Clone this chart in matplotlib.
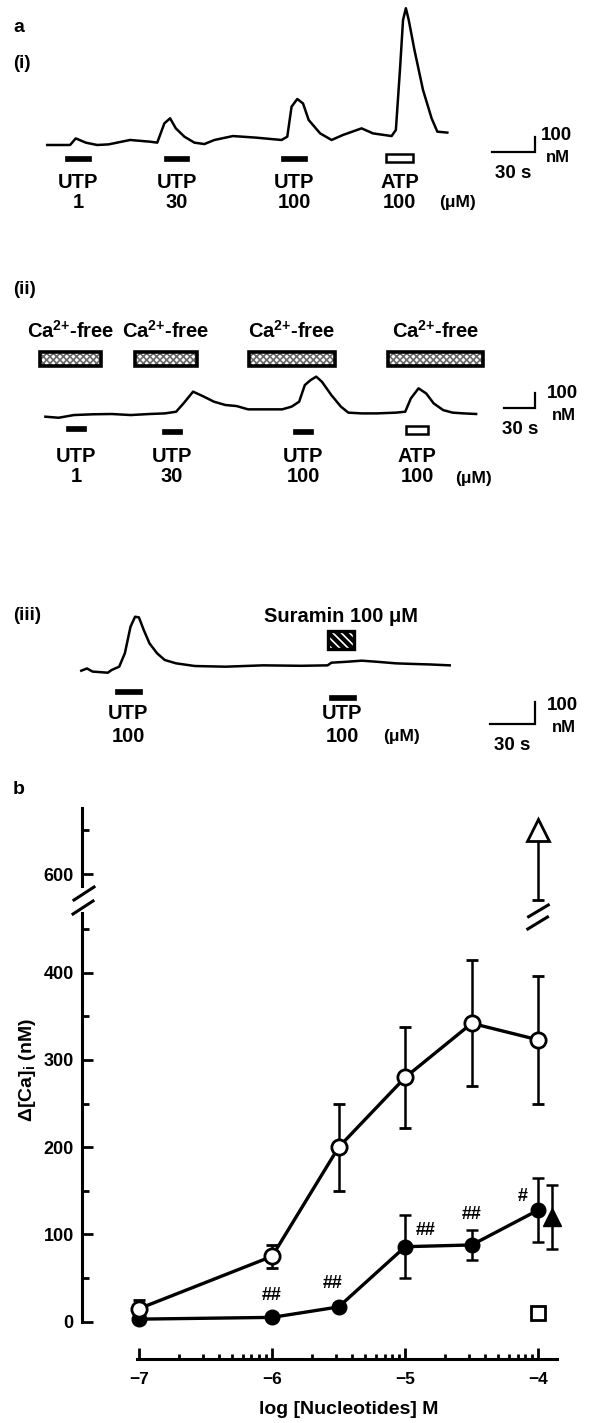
"""Fura-2 traces (a) and concentration-response curves (b) for UTP / ATP."""

import matplotlib.pyplot as plt
import numpy as np
from matplotlib.lines import Line2D
from matplotlib.patches import Rectangle

W, H = 591, 1423

# ---- a(i): normal medium; time (s) vs delta [Ca]i (nM)
T1 = [0, 16, 20, 27, 35, 43, 58, 72, 77, 82, 86, 90, 96, 103, 110, 117, 130, 146, 164, 168,
      171, 175, 179, 183, 191, 199, 207, 220, 228, 241, 244, 247, 249, 251, 253, 257, 263, 269, 273, 280]
V1 = [0, 0, 42, 15, 0, 4, 32, 21, 15, 138, 170, 106, 53, 15, 6, 32, 57, 47, 32, 53,
      244, 293, 265, 159, 74, 32, 64, 106, 74, 57, 96, 499, 796, 871, 796, 605, 350, 170, 85, 79]
STIM1_ON = [12.7, 81.5, 163.9, 237.4]
STIM1_OFF = [30.5, 99.5, 181.7, 256.0]
STIM1_DRUG = ["UTP", "UTP", "UTP", "ATP"]
STIM1_CONC = ["1", "30", "100", "100"]

# ---- a(ii): Ca2+-free medium
T2 = [0, 12.6, 27.1, 45.1, 63.2, 81.3, 99.2, 113.8, 124.6, 131.7, 140.8, 149.8, 160.7, 171.5,
      182.3, 193.2, 207.6, 225.7, 234.7, 241.9, 247.3, 252.8, 258.2, 263.6, 272.6, 281.7, 288.8,
      301.5, 315.9, 334, 343, 348.4, 355.7, 363, 370.1, 379.2, 388.2, 399, 410.6]
V2 = [0, -7, 11, 16, 18, 11, 18, 22, 33, 89, 167, 138, 100, 78, 71, 49, 49, 49, 67, 100,
      211, 244, 267, 233, 144, 67, 27, 22, 22, 27, 33, 122, 189, 155, 89, 44, 27, 22, 18]
STIM2_ON = [19.8, 110.8, 236.5, 344.0]
STIM2_OFF = [38.5, 130.0, 255.3, 364.7]
STIM2_DRUG = ["UTP", "UTP", "UTP", "ATP"]
STIM2_CONC = ["1", "30", "100", "100"]
CAFREE_ON = [-5.4, 85.6, 193.9, 326.8]
CAFREE_OFF = [53.1, 144.6, 276.3, 416.7]

# ---- a(iii): suramin
T3 = [0, 3.7, 7.4, 17.4, 19.8, 24.8, 28.5, 32.2, 35.2, 37.7, 40.9, 44.6, 49.6, 54.6, 62, 74.4,
      94.3, 119, 143.9, 161.2, 163.7, 173.6, 183.5, 193.5, 205.9, 218.3, 228.2, 241.1]
V3 = [0, 10, -4, -9, 3, 18, 78, 197, 242, 239, 182, 123, 78, 48, 33, 21,
      18, 24, 22, 24, 36, 40, 45, 40, 33, 30, 28, 24]
STIM3_ON = [21.9, 161.8]
STIM3_OFF = [39.7, 179.8]
STIM3_DRUG = ["UTP", "UTP"]
STIM3_CONC = ["100", "100"]
SURAMIN_ON, SURAMIN_OFF = 161.3, 178.6

# ---- b: log concentration (M) vs delta [Ca]i (nM)
LOG_C = [-7, -6, -5.5, -5, -4.5, -4]
UTP_CTRL = [15, 75, 200, 280, 342, 323]
UTP_CTRL_SEM = [10, 13, 50, 58, 72, 73]
UTP_FREE = [3, 5, 17, 86, 88, 128]
UTP_FREE_SEM = [3, 3, 4, 36, 17, 37]
SIG_MARK = ["", "##", "##", "##", "##", "#"]
ATP_CTRL_X, ATP_CTRL, ATP_CTRL_SEM = -4.0, 650, 80
ATP_FREE_X, ATP_FREE, ATP_FREE_SEM = -3.9, 120, 37
SURAMIN_X, SURAMIN_Y = -4.0, 10

plt.rcParams["font.family"] = ["Liberation Sans", "DejaVu Sans"]
plt.rcParams["font.weight"] = "bold"
plt.rcParams["mathtext.default"] = "regular"
plt.rcParams["hatch.linewidth"] = 1.2


def px_rect(left, top, right, bottom):
    return [left / W, 1 - bottom / H, (right - left) / W, (bottom - top) / H]


def fig_line(fig, p1, p2, lw=2.2):
    fig.add_artist(Line2D([p1[0] / W, p2[0] / W], [1 - p1[1] / H, 1 - p2[1] / H],
                          transform=fig.transFigure, color="k", lw=lw))


def trace_panel(fig, top, bottom, x0, y0, sx, sy):
    """Axes over a pixel band; t=0/v=0 sits at pixel (x0, y0), sx px/s, sy px/nM."""
    ax = fig.add_axes(px_rect(0, top, W, bottom))
    ax.set_xlim(-x0 / sx, (W - x0) / sx)
    ax.set_ylim((y0 - bottom) / sy, (y0 - top) / sy)
    ax.axis("off")
    tx = lambda px: (px - x0) / sx
    lv = lambda py: (y0 - py) / sy
    return ax, tx, lv, sy


def draw_stim(ax, lv, sy, on, off, drugs, concs, centres, y_drug, y_conc):
    for s, e, d, c, yc in zip(on, off, drugs, concs, centres):
        if d == "ATP":
            ax.add_patch(Rectangle((s, lv(yc + 4)), e - s, 8 / sy, fc="white", ec="k", lw=1.8))
        else:
            ax.add_patch(Rectangle((s, lv(yc + 2.5)), e - s, 5 / sy, fc="k", ec="k", lw=0.5))
        ax.text((s + e) / 2, lv(y_drug), d, ha="center", va="center", fontsize=14.5)
        ax.text((s + e) / 2, lv(y_conc), c, ha="center", va="center", fontsize=14.5)


def scale_bar(ax, tx, lv, left_px, y_px, lab_px):
    t0, v0 = tx(left_px), lv(y_px)
    ax.plot([t0, t0 + 30, t0 + 30], [v0, v0, v0 + 100], color="k", lw=1.6,
            solid_joinstyle="miter", clip_on=False)
    ax.text(tx(lab_px[0]), lv(lab_px[1]), "100", ha="left", va="center", fontsize=13.5)
    ax.text(tx(lab_px[0] + 5), lv(lab_px[1] + 22), "nM", ha="left", va="center", fontsize=12)
    ax.text(t0 + 15, lv(y_px + 21), "30 s", ha="center", va="center", fontsize=13.5)


fig = plt.figure(figsize=(W / 100, H / 100), dpi=100)

# a(i)
ax, tx, lv, sy = trace_panel(fig, 0, 250, 47.2, 145, 1.429, 0.157)
ax.plot(T1, V1, color="k", lw=1.8)
draw_stim(ax, lv, sy, STIM1_ON, STIM1_OFF, STIM1_DRUG, STIM1_CONC, [158] * 4, 183, 202)
ax.text(tx(458), lv(203), "(μM)", ha="center", va="center", fontsize=12.5)
scale_bar(ax, tx, lv, 491.7, 152.3, (541, 135))
fig.text(13 / W, 1 - 27 / H, "a", ha="left", va="center", fontsize=14)
fig.text(13 / W, 1 - 63 / H, "(i)", ha="left", va="center", fontsize=13.5)

# a(ii)
ax, tx, lv, sy = trace_panel(fig, 250, 520, 45.4, 416.7, 1.049, 0.15)
ax.plot(T2, V2, color="k", lw=1.8)
draw_stim(ax, lv, sy, STIM2_ON, STIM2_OFF, STIM2_DRUG, STIM2_CONC,
          [428.3, 431.7, 431.0, 430.3], 456.7, 476.7)
for s, e in zip(CAFREE_ON, CAFREE_OFF):
    ax.add_patch(Rectangle((s, lv(366)), e - s, 14.3 / sy, fc="white", ec="none"))
    ax.add_patch(Rectangle((s, lv(366)), e - s, 14.3 / sy, fc="none", ec="#6a6a6a", lw=0,
                           hatch="xxxxx"))
    ax.add_patch(Rectangle((s, lv(366)), e - s, 14.3 / sy, fc="none", ec="k", lw=2.6))
    ax.text((s + e) / 2, lv(331), "Ca$^{2{+}}$-free", ha="center", va="center", fontsize=14.5)
ax.text(tx(473), lv(478), "(μM)", ha="center", va="center", fontsize=12.5)
scale_bar(ax, tx, lv, 504, 408.3, (547, 393))
fig.text(13 / W, 1 - 289 / H, "(ii)", ha="left", va="center", fontsize=13.5)

# a(iii)
ax, tx, lv, sy = trace_panel(fig, 520, 770, 81.3, 670.7, 1.528, 0.223)
ax.plot(T3, V3, color="k", lw=1.8)
draw_stim(ax, lv, sy, STIM3_ON, STIM3_OFF, STIM3_DRUG, STIM3_CONC, [691.7, 697.5], 713.3, 736)
ax.add_patch(Rectangle((SURAMIN_ON, lv(649.3)), SURAMIN_OFF - SURAMIN_ON, 18.3 / sy,
                       fc="k", ec="none"))
ax.add_patch(Rectangle((SURAMIN_ON, lv(649.3)), SURAMIN_OFF - SURAMIN_ON, 18.3 / sy,
                       fc="none", ec="white", lw=0, hatch="\\\\\\\\"))
ax.add_patch(Rectangle((SURAMIN_ON, lv(649.3)), SURAMIN_OFF - SURAMIN_ON, 18.3 / sy,
                       fc="none", ec="k", lw=2.4))
ax.text((SURAMIN_ON + SURAMIN_OFF) / 2, lv(616.7), "Suramin 100 μM", ha="center", va="center",
        fontsize=14.5)
ax.text(tx(401.6), lv(737), "(μM)", ha="center", va="center", fontsize=12.5)
scale_bar(ax, tx, lv, 489.5, 724, (547, 705))
fig.text(13 / W, 1 - 615 / H, "(iii)", ha="left", va="center", fontsize=13.5)

# b: broken y axis, lower and upper parts
XLIM = (-7 + (82 - 139) / 133.1, -7 + (570 - 139) / 133.1)
ax_lo = fig.add_axes(px_rect(82, 913, 570, 1339.2))
ax_hi = fig.add_axes(px_rect(82, 807.7, 570, 904.6))
ax_lo.set_ylim(-20, 468.4)
ax_hi.set_ylim(565, 676)
for a in (ax_lo, ax_hi):
    a.set_xlim(*XLIM)
    a.patch.set_visible(False)
    a.spines["top"].set_visible(False)
    a.spines["right"].set_visible(False)
    a.spines["left"].set_linewidth(2.2)
    a.tick_params(axis="y", which="both", direction="in", width=2.0, labelsize=13, pad=6)
    a.tick_params(axis="y", which="major", length=8)
    a.tick_params(axis="y", which="minor", length=5)
ax_lo.spines["left"].set_bounds(0, 468.4)
ax_hi.spines["left"].set_bounds(586, 676)
ax_hi.spines["bottom"].set_visible(False)
ax_hi.set_xticks([])
ax_hi.set_yticks([600])
ax_hi.set_yticks([650], minor=True)
ax_lo.set_yticks([0, 100, 200, 300, 400])
ax_lo.set_yticks([50, 150, 250, 350, 450], minor=True)

ax_lo.spines["bottom"].set_position(("outward", 20.1 * 72 / 100))
ax_lo.spines["bottom"].set_bounds(-7.017, -3.862)
ax_lo.spines["bottom"].set_linewidth(2.2)
ax_lo.set_xticks([-7, -6, -5, -4])
ax_lo.set_xticklabels(["\u22127", "\u22126", "\u22125", "\u22124"])
ax_lo.set_xticks([d + np.log10(k) for d in (-7, -6, -5) for k in range(2, 10)], minor=True)
ax_lo.tick_params(axis="x", which="both", direction="in", width=2.0, labelsize=12.5, pad=9)
ax_lo.tick_params(axis="x", which="major", length=8)
ax_lo.tick_params(axis="x", which="minor", length=3.5)

ax_lo.errorbar(LOG_C, UTP_FREE, yerr=UTP_FREE_SEM, fmt="-o", color="k", ms=10.5,
               lw=2.4, elinewidth=1.8, capsize=4.5, capthick=1.8, zorder=3)
ax_lo.errorbar(LOG_C, UTP_CTRL, yerr=UTP_CTRL_SEM, fmt="-o", color="k", mfc="white",
               mec="k", mew=2.0, ms=11, lw=2.4, elinewidth=1.8, capsize=4.5,
               capthick=1.8, zorder=4)
ax_lo.errorbar([ATP_FREE_X], [ATP_FREE], yerr=[ATP_FREE_SEM], fmt="^", color="k", ms=13,
               elinewidth=1.8, capsize=4.5, capthick=1.8, zorder=3)
ax_lo.plot([SURAMIN_X], [SURAMIN_Y], "s", mfc="white", mec="k", mew=2.0, ms=10.5, zorder=3)
ax_hi.errorbar([ATP_CTRL_X], [ATP_CTRL], yerr=[[ATP_CTRL_SEM], [0]], fmt="^", color="k",
               mfc="white", mec="k", mew=2.0, ms=16, elinewidth=1.8, capsize=4.5,
               capthick=1.8, zorder=3)

SIG_OFFSET = [(0, 0), (0, 16), (-4, 17), (15, 12), (0, 22), (-11, 10)]
for x, y, m, off in zip(LOG_C, UTP_FREE, SIG_MARK, SIG_OFFSET):
    if m:
        ax_lo.annotate(m, (x, y), xytext=off, textcoords="offset points", ha="center",
                       va="center", fontsize=13)

# break marks on the axis and on the ATP error bar
fig_line(fig, (74, 900), (94, 887))
fig_line(fig, (73, 914), (93, 901))
fig_line(fig, (528.6, 916.7), (548.3, 905))
fig_line(fig, (527.8, 929), (547.5, 917))

fig.text(28 / W, 1 - 1070 / H, "\u0394[Ca]$_{i}$ (nM)", rotation=90, ha="center",
         va="center", fontsize=14)
fig.text(349 / W, 1 - 1410 / H, "log [Nucleotides] M", ha="center", va="center", fontsize=14)
fig.text(13 / W, 1 - 789 / H, "b", ha="left", va="center", fontsize=14)

fig.savefig("out.png", dpi=100)
